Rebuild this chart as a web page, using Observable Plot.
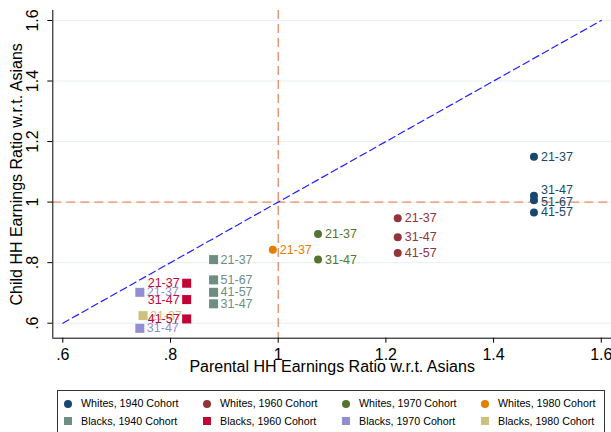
<!DOCTYPE html>
<html><head><meta charset="utf-8">
<script src="https://cdn.jsdelivr.net/npm/d3@7"></script>
<script src="https://cdn.jsdelivr.net/npm/@observablehq/plot@0.6"></script>
<style>
body{margin:0;background:#fff;font-family:"Liberation Sans",Arial,sans-serif;}
#wrap{position:relative;width:611px;height:432px;overflow:hidden;background:#fff;}
#wrap svg{display:block;}
#legend{position:absolute;left:57px;top:390px;width:548px;height:60px;border:1px solid #333;box-sizing:border-box;}
.item{position:absolute;font-size:10.7px;line-height:13px;color:#000;white-space:nowrap;}
.sw{position:absolute;}
</style></head><body><div id="wrap"></div>
<script>
// Series (legend) definitions
const seriesNames = ["Whites, 1940 Cohort","Whites, 1960 Cohort","Whites, 1970 Cohort","Whites, 1980 Cohort",
                     "Blacks, 1940 Cohort","Blacks, 1960 Cohort","Blacks, 1970 Cohort","Blacks, 1980 Cohort"];
const seriesColors = ["#1a476f","#90353b","#55752f","#e37e00","#6e8e84","#c10534","#938dd2","#cac27e"];
const seriesSymbols = ["circle","circle","circle","circle","square","square","square","square"];

// Data: parental ratio (x), child ratio (y), age-band labels
const w1940_parent = [1.475, 1.475, 1.475, 1.475];
const w1940_child  = [1.150, 1.021, 1.006, 0.966];
const w1940_ages   = ["21-37","31-47","51-67","41-57"];

const w1960_parent = [1.222, 1.222, 1.222];
const w1960_child  = [0.947, 0.884, 0.832];
const w1960_ages   = ["21-37","31-47","41-57"];

const w1970_parent = [1.074, 1.074];
const w1970_child  = [0.895, 0.810];
const w1970_ages   = ["21-37","31-47"];

const w1980_parent = [0.990];
const w1980_child  = [0.843];
const w1980_ages   = ["21-37"];

const b1940_parent = [0.880, 0.880, 0.880, 0.880];
const b1940_child  = [0.810, 0.743, 0.702, 0.664];
const b1940_ages   = ["21-37","51-67","41-57","31-47"];

const b1960_parent = [0.830, 0.830, 0.830];
const b1960_child  = [0.732, 0.678, 0.614];
const b1960_ages   = ["21-37","31-47","41-57"];

const b1970_parent = [0.743, 0.743];
const b1970_child  = [0.702, 0.583];
const b1970_ages   = ["21-37","31-47"];

const b1980_parent = [0.749];
const b1980_child  = [0.625];
const b1980_ages   = ["21-37"];

const xTicks = [0.6, 0.8, 1, 1.2, 1.4, 1.6];
const yTicks = [0.6, 0.8, 1, 1.2, 1.4, 1.6];
const diagonal = [0.6, 1.6];
const refValue = 1;
const xTitle = "Parental HH Earnings Ratio w.r.t. Asians";
const yTitle = "Child HH Earnings Ratio w.r.t. Asians";

// build table
const seriesData = [
  [w1940_parent, w1940_child, w1940_ages],
  [w1960_parent, w1960_child, w1960_ages],
  [w1970_parent, w1970_child, w1970_ages],
  [w1980_parent, w1980_child, w1980_ages],
  [b1940_parent, b1940_child, b1940_ages],
  [b1960_parent, b1960_child, b1960_ages],
  [b1970_parent, b1970_child, b1970_ages],
  [b1980_parent, b1980_child, b1980_ages]
];
const rows = [];
seriesData.forEach(([xs, ys, ls], s) => {
  xs.forEach((x, i) => rows.push({x, y: ys[i], label: ls[i], s, name: seriesNames[s], color: seriesColors[s], symbol: seriesSymbols[s]}));
});
// label placement (style only): Blacks 1960 labels on the left; small vertical nudges for overlapping labels
const leftLabelSeries = new Set([5]);
const labelNudge = {"0|31-47": -6, "0|51-67": 2};
rows.forEach(r => { r.dy = labelNudge[r.s + "|" + r.label] || 0; });

const fmt = d => String(d).replace(/^0\./, ".");
const xDom = [0.5814, 1.619];
const yDom = [0.5504, 1.633];
const font = "'Liberation Sans', Arial, sans-serif";

const circles = rows.filter(r => r.symbol === "circle");
const squares = rows.filter(r => r.symbol === "square");
const labelOrder = [0,1,2,3,4,6,7,5];
const rightLabels = rows.filter(r => !leftLabelSeries.has(r.s)).sort((a,b)=>labelOrder.indexOf(a.s)-labelOrder.indexOf(b.s));
const leftLabels = rows.filter(r => leftLabelSeries.has(r.s));

const marks = [
  Plot.ruleY(yTicks, {stroke: "#e6eff0", strokeWidth: 1}),
  Plot.ruleY([refValue], {stroke: "#f08a64", strokeWidth: 1.4, strokeDasharray: "9,5"}),
  Plot.ruleX([refValue], {stroke: "#d9541f", strokeWidth: 0.9, strokeDasharray: "9,5"}),
  Plot.line(diagonal, {x: d => d, y: d => d, stroke: "#1f1fff", strokeWidth: 1.2, strokeDasharray: "7,4"}),
  Plot.ruleX([xDom[0]], {stroke: "black", strokeWidth: 1}),
  Plot.ruleY([yDom[0]], {stroke: "black", strokeWidth: 1}),
  Plot.axisX(xTicks, {tickFormat: fmt, tickSize: 5, tickPadding: 5, fontSize: 16, label: null}),
  Plot.axisY(yTicks, {tickFormat: fmt, tickSize: 5, tickPadding: 10, tickRotate: -90, fontSize: 16, label: null}),
  Plot.text([xTitle], {frameAnchor: "bottom", dy: 34, fontSize: 16, fill: "black"}),
  Plot.text([yTitle], {frameAnchor: "left", textAnchor: "middle", dx: -36, rotate: -90, fontSize: 16, fill: "black"}),
  Plot.dot(circles, {x: "x", y: "y", r: 4, fill: "color", stroke: null, symbol: "circle"}),
  Plot.dot(squares, {x: "x", y: "y", r: 5.1, fill: "color", stroke: null, symbol: "square"})
];
// labels, grouped by nudge so dy stays a constant per mark
for (const dyv of [...new Set(rightLabels.map(r => r.dy))]) {
  marks.push(Plot.text(rightLabels.filter(r => r.dy === dyv), {x: "x", y: "y", text: "label", fill: "color", dx: 7, dy: dyv, textAnchor: "start", fontSize: 12.5}));
}
marks.push(Plot.text(leftLabels, {x: "x", y: "y", text: "label", fill: "color", dx: -7, textAnchor: "end", fontSize: 12.5}));

const chart = Plot.plot({
  width: 611, height: 390,
  marginLeft: 52.3, marginRight: 0, marginTop: 10, marginBottom: 52.3,
  style: {fontFamily: font, background: "white", color: "black"},
  x: {domain: xDom},
  y: {domain: yDom},
  marks
});
const wrap = document.getElementById("wrap");
wrap.appendChild(chart);

// legend
const legend = document.createElement("div");
legend.id = "legend";
wrap.appendChild(legend);
seriesNames.forEach((name, i) => {
  const col = i % 4, row = Math.floor(i / 4);
  const cx = 10 + col * 139, cy = 12.5 + row * 17.5;
  const sw = document.createElement("div");
  sw.className = "sw";
  const size = seriesSymbols[i] === "circle" ? 8 : 8.5;
  sw.style.cssText = `left:${cx - size/2}px;top:${cy - size/2}px;width:${size}px;height:${size}px;background:${seriesColors[i]};border-radius:${seriesSymbols[i]==="circle"?"50%":"0"}`;
  legend.appendChild(sw);
  const t = document.createElement("div");
  t.className = "item";
  t.textContent = name;
  t.style.left = (cx + 13) + "px";
  t.style.top = (cy - 6.5) + "px";
  legend.appendChild(t);
});
</script>
</body></html>
